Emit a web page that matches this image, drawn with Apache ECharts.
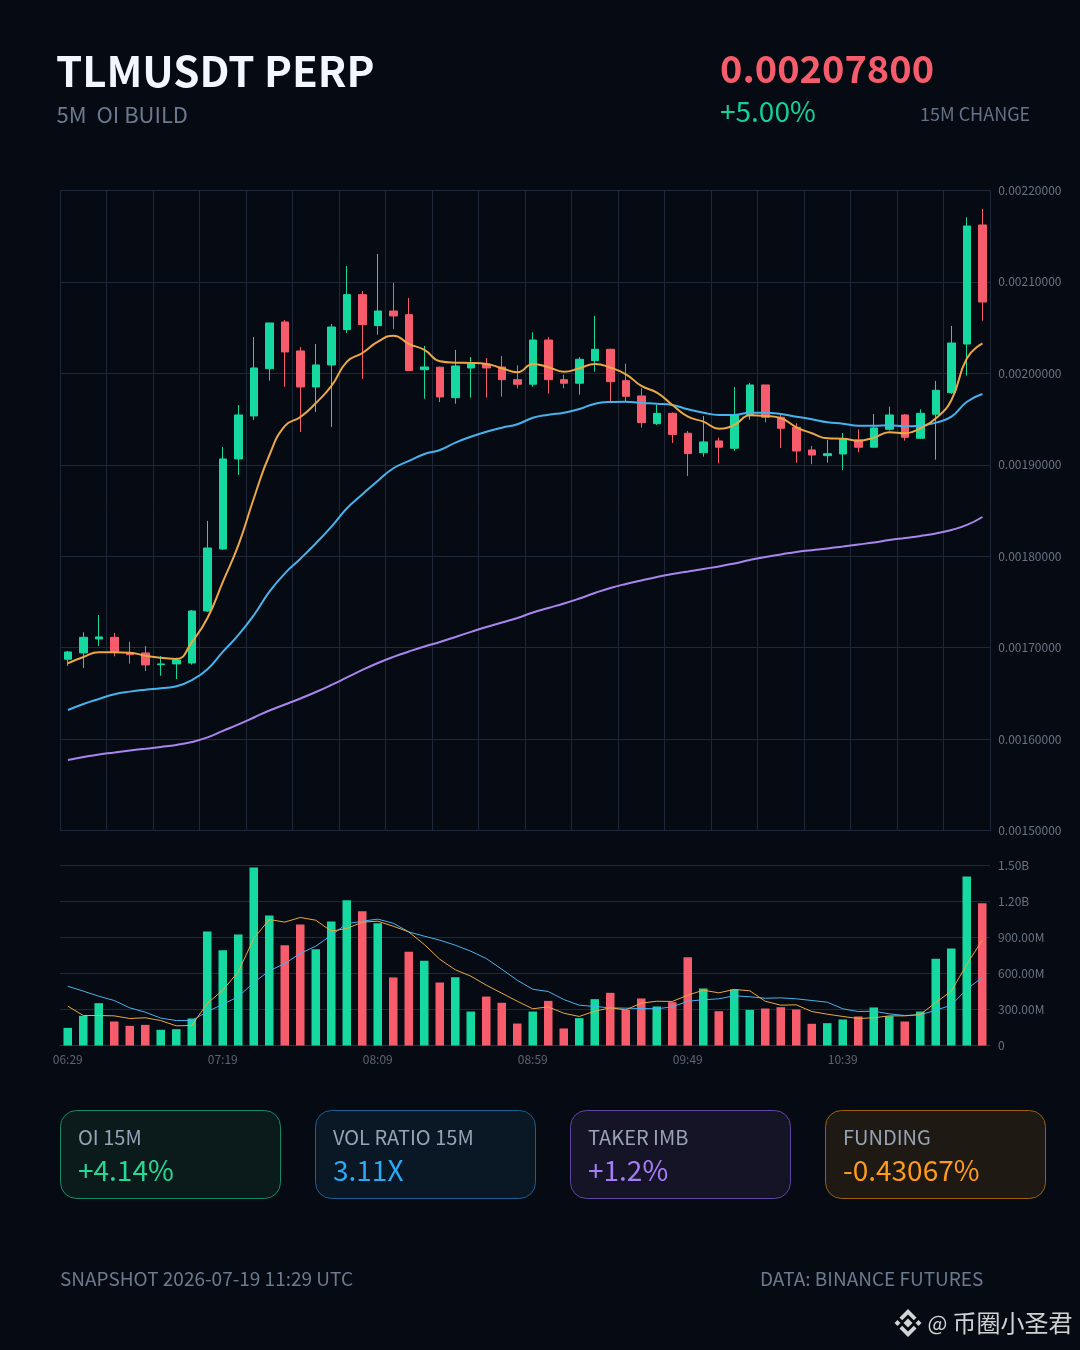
<!DOCTYPE html>
<html>
<head>
<meta charset="utf-8">
<style>html,body{margin:0;padding:0;background:#060a12}#c{width:1080px;height:1350px}</style>
<script src="https://cdn.jsdelivr.net/npm/echarts@6/dist/echarts.min.js"></script>
</head>
<body>
<div id="c"></div>
<script>
const times = ['06:29','06:34','06:39','06:44','06:49','06:54','06:59','07:04','07:09','07:14','07:19','07:24','07:29','07:34','07:39','07:44','07:49','07:54','07:59','08:04','08:09','08:14','08:19','08:24','08:29','08:34','08:39','08:44','08:49','08:54','08:59','09:04','09:09','09:14','09:19','09:24','09:29','09:34','09:39','09:44','09:49','09:54','09:59','10:04','10:09','10:14','10:19','10:24','10:29','10:34','10:39','10:44','10:49','10:54','10:59','11:04','11:09','11:14','11:19','11:24'];
const open = [0.0016873,0.0016942,0.0017095,0.0017113,0.0016945,0.0016942,0.0016814,0.0016822,0.0016832,0.0017401,0.0018079,0.0019064,0.0019534,0.0020051,0.0020562,0.0020245,0.0019851,0.0020092,0.0020478,0.0020861,0.0020522,0.0020682,0.0020642,0.0020040,0.0020067,0.0019734,0.0020059,0.0020103,0.0020070,0.0019931,0.0019881,0.0020365,0.0019931,0.0019892,0.0020139,0.0020263,0.0019920,0.0019753,0.0019450,0.0019563,0.0019345,0.0019133,0.0019261,0.0019181,0.0019545,0.0019873,0.0019520,0.0019410,0.0019162,0.0019100,0.0019118,0.0019271,0.0019192,0.0019388,0.0019545,0.0019290,0.0019553,0.0019789,0.0020321,0.0021623];
const close = [0.0016953,0.0017113,0.0017117,0.0016950,0.0016923,0.0016811,0.0016822,0.0016865,0.0017401,0.0018090,0.0019064,0.0019545,0.0020059,0.0020551,0.0020234,0.0019851,0.0020092,0.0020507,0.0020861,0.0020533,0.0020682,0.0020628,0.0020030,0.0020070,0.0019742,0.0020081,0.0020103,0.0020059,0.0019931,0.0019881,0.0020365,0.0019931,0.0019892,0.0020154,0.0020263,0.0019909,0.0019749,0.0019461,0.0019563,0.0019332,0.0019122,0.0019250,0.0019192,0.0019545,0.0019873,0.0019520,0.0019399,0.0019151,0.0019107,0.0019122,0.0019286,0.0019192,0.0019403,0.0019545,0.0019301,0.0019563,0.0019815,0.0020332,0.0021612,0.0020780];
const low = [0.0016800,0.0016778,0.0017018,0.0016906,0.0016825,0.0016745,0.0016693,0.0016657,0.0016814,0.0017390,0.0018068,0.0018889,0.0019490,0.0019920,0.0019854,0.0019359,0.0019578,0.0019414,0.0020442,0.0019939,0.0020423,0.0020486,0.0020026,0.0019723,0.0019687,0.0019668,0.0019734,0.0019734,0.0019745,0.0019837,0.0019854,0.0019778,0.0019837,0.0019767,0.0020018,0.0019687,0.0019687,0.0019406,0.0019436,0.0019239,0.0018878,0.0019089,0.0019017,0.0019154,0.0019493,0.0019465,0.0019184,0.0019023,0.0019006,0.0019023,0.0018943,0.0019137,0.0019192,0.0019373,0.0019264,0.0019286,0.0019056,0.0019775,0.0019975,0.0020576];
const high = [0.0016964,0.0017168,0.0017357,0.0017161,0.0017065,0.0017018,0.0016909,0.0016890,0.0017412,0.0018386,0.0019195,0.0019654,0.0020398,0.0020551,0.0020584,0.0020289,0.0020321,0.0020540,0.0021175,0.0020901,0.0021306,0.0020989,0.0020825,0.0020300,0.0020073,0.0020256,0.0020179,0.0020168,0.0020190,0.0020088,0.0020449,0.0020398,0.0019986,0.0020179,0.0020628,0.0020270,0.0020106,0.0019837,0.0019654,0.0019574,0.0019370,0.0019534,0.0019297,0.0019851,0.0019895,0.0019873,0.0019545,0.0019454,0.0019206,0.0019271,0.0019348,0.0019388,0.0019556,0.0019636,0.0019556,0.0019607,0.0019917,0.0020518,0.0021707,0.0021798];
const maFast = [0.0016829,0.0016898,0.0016950,0.0016950,0.0016945,0.0016912,0.0016890,0.0016876,0.0017062,0.0017325,0.0017722,0.0018123,0.0018637,0.0019107,0.0019425,0.0019523,0.0019676,0.0019862,0.0020128,0.0020223,0.0020347,0.0020412,0.0020321,0.0020256,0.0020132,0.0020117,0.0020114,0.0020103,0.0020056,0.0020012,0.0020103,0.0020067,0.0020018,0.0020056,0.0020103,0.0020062,0.0019990,0.0019862,0.0019789,0.0019654,0.0019526,0.0019472,0.0019395,0.0019436,0.0019542,0.0019534,0.0019509,0.0019410,0.0019345,0.0019290,0.0019286,0.0019264,0.0019297,0.0019356,0.0019345,0.0019400,0.0019509,0.0019709,0.0020165,0.0020329];
const maMid = [0.0016318,0.0016384,0.0016439,0.0016490,0.0016519,0.0016540,0.0016556,0.0016578,0.0016646,0.0016763,0.0016956,0.0017139,0.0017357,0.0017612,0.0017813,0.0017973,0.0018142,0.0018323,0.0018524,0.0018678,0.0018826,0.0018962,0.0019042,0.0019118,0.0019162,0.0019242,0.0019307,0.0019362,0.0019406,0.0019443,0.0019515,0.0019548,0.0019570,0.0019611,0.0019668,0.0019687,0.0019690,0.0019676,0.0019668,0.0019654,0.0019607,0.0019570,0.0019545,0.0019545,0.0019570,0.0019570,0.0019556,0.0019526,0.0019498,0.0019465,0.0019450,0.0019428,0.0019428,0.0019432,0.0019421,0.0019428,0.0019461,0.0019526,0.0019690,0.0019775];
const maSlow = [0.0015772,0.0015804,0.0015832,0.0015853,0.0015875,0.0015895,0.0015914,0.0015936,0.0015968,0.0016018,0.0016089,0.0016160,0.0016236,0.0016313,0.0016378,0.0016444,0.0016515,0.0016592,0.0016674,0.0016756,0.0016832,0.0016899,0.0016958,0.0017013,0.0017062,0.0017117,0.0017172,0.0017226,0.0017275,0.0017325,0.0017385,0.0017434,0.0017483,0.0017538,0.0017598,0.0017653,0.0017697,0.0017735,0.0017772,0.0017806,0.0017833,0.0017861,0.0017888,0.0017921,0.0017959,0.0017992,0.0018019,0.0018047,0.0018066,0.0018085,0.0018107,0.0018129,0.0018150,0.0018178,0.0018200,0.0018222,0.0018249,0.0018287,0.0018342,0.0018429];
const volume = [147,247,353,200,164,172,131,136,225,950,794,925,1483,1083,836,1008,803,1033,1211,1119,1019,567,781,706,525,569,283,408,356,183,283,372,142,228,386,439,297,392,325,361,736,475,286,467,297,308,319,300,181,186,217,242,317,244,200,283,722,808,1408,1186];
const volFast = [328,250,250,247,225,231,208,164,167,350,461,614,892,1050,1028,1067,1044,953,975,1028,1036,994,947,842,719,631,578,503,436,369,306,322,269,242,286,314,297,353,369,367,419,461,439,467,456,369,336,339,283,261,242,225,231,247,247,258,358,453,675,878];
const volSlow = [494,453,411,375,314,278,228,208,208,281,344,406,525,622,683,767,828,919,1014,1036,1053,1019,947,911,878,836,786,725,636,544,469,450,383,336,325,314,311,308,306,322,369,381,389,414,406,394,397,389,375,361,306,283,286,264,250,256,294,336,469,567];

const UP = '#16d9a0', DOWN = '#f65c6b';
const FONT = '"Noto Sans CJK SC","Noto Sans",sans-serif';
const GRID = '#1e2838';

function txt(text, x, y, size, fill, weight, align) {
  return {type:'text', silent:true, style:{text, x, y, fill,
    font:(weight||'400')+' '+size+'px '+FONT, textAlign:align||'left', textVerticalAlign:'middle'}};
}
function card(x, fill, stroke, label, value, valueColor) {
  return [
    {type:'rect', silent:true, shape:{x, y:1110.5, width:220, height:88, r:16},
     style:{fill, stroke, lineWidth:1}},
    txt(label, x+17.5, 1137, 20, '#97a3b6'),
    txt(value, x+17.5, 1170, 28, valueColor)
  ];
}
const logoColor = '#d2d4d6', lx = 908, ly = 1323;
function poly(pts){ return {type:'polygon', silent:true, shape:{points:pts.map(p=>[lx+p[0],ly+p[1]])}, style:{fill:logoColor}}; }

const chart = echarts.init(document.getElementById('c'), null, {width:1080, height:1350});
chart.setOption({
  animation:false,
  backgroundColor:'#060a12',
  grid:[
    {left:60.2, right:89.8, top:190.5, height:640, containLabel:false},
    {left:60, right:90, top:865.5, height:180, containLabel:false}
  ],
  xAxis:[
    {type:'category', gridIndex:0, data:times, boundaryGap:true,
     axisLine:{lineStyle:{color:GRID}}, axisTick:{show:false, interval:2}, axisLabel:{show:false},
     splitLine:{show:true, interval:2, lineStyle:{color:GRID, width:1}}},
    {type:'category', gridIndex:1, data:times, boundaryGap:true,
     axisLine:{lineStyle:{color:'#263244'}}, axisTick:{show:false},
     axisLabel:{interval:9, color:'#5d6675', fontSize:12, fontFamily:FONT, margin:8},
     splitLine:{show:false}}
  ],
  yAxis:[
    {type:'value', gridIndex:0, position:'right', min:0.0015, max:0.0022, interval:0.0001,
     axisLine:{show:false}, axisTick:{show:false},
     axisLabel:{color:'#687484', fontSize:12, fontFamily:FONT, margin:8, formatter:v=>v.toFixed(8)},
     splitLine:{show:true, lineStyle:{color:GRID, width:1}}},
    {type:'value', gridIndex:1, position:'right', min:0, max:1500, interval:300,
     axisLine:{show:false}, axisTick:{show:false},
     axisLabel:{color:'#687484', fontSize:12, fontFamily:FONT, margin:8,
       formatter:v=>v===0?'0':(v>=1000?(v/1000).toFixed(2)+'B':v.toFixed(2)+'M')},
     splitLine:{show:true, lineStyle:{color:'#1c2a39', width:1}}}
  ],
  series:[
    {type:'candlestick', xAxisIndex:0, yAxisIndex:0, barWidth:'52%',
     data:times.map((_,i)=>[open[i],close[i],low[i],high[i]]),
     itemStyle:{color:UP, color0:DOWN, borderColor:UP, borderColor0:DOWN, borderWidth:1}},
    {type:'line', xAxisIndex:0, yAxisIndex:0, data:maSlow, smooth:0.5, showSymbol:false, lineStyle:{color:'#a985ee', width:2}, z:3},
    {type:'line', xAxisIndex:0, yAxisIndex:0, data:maMid, smooth:0.5, showSymbol:false, lineStyle:{color:'#47b3ee', width:2}, z:3},
    {type:'line', xAxisIndex:0, yAxisIndex:0, data:maFast, smooth:0.5, showSymbol:false, lineStyle:{color:'#eca844', width:2}, z:4},
    {type:'bar', xAxisIndex:1, yAxisIndex:1, barWidth:'55%',
     data:volume.map((v,i)=>({value:v, itemStyle:{color:close[i]>=open[i]?UP:DOWN}}))},
    {type:'line', xAxisIndex:1, yAxisIndex:1, data:volFast, showSymbol:false, lineStyle:{color:'#eca844', width:1}, z:4},
    {type:'line', xAxisIndex:1, yAxisIndex:1, data:volSlow, showSymbol:false, lineStyle:{color:'#47b3ee', width:1}, z:3}
  ],
  graphic:[
    txt('TLMUSDT PERP', 56, 71, 42, '#f2f6fd', '700'),
    txt('5M  OI BUILD', 56.5, 115, 22, '#6c7a90'),
    txt('0.00207800', 720, 69, 38, '#f65c6b', '700'),
    txt('+5.00%', 720, 111, 28, '#16cf98'),
    txt('15M CHANGE', 920, 114, 18, '#667287'),
    ...card(60.5, '#0b1b1c', '#158a68', 'OI 15M', '+4.14%', '#26d796'),
    ...card(315.5, '#0a1826', '#1a5f92', 'VOL RATIO 15M', '3.11X', '#2ba8f6'),
    ...card(570.5, '#141426', '#5f46a2', 'TAKER IMB', '+1.2%', '#a67cf6'),
    ...card(825.5, '#1e1913', '#9a5f14', 'FUNDING', '-0.43067%', '#ff9a1a'),
    txt('SNAPSHOT 2026-07-19 11:29 UTC', 60, 1279, 19, '#6c7a90'),
    txt('DATA: BINANCE FUTURES', 760, 1279, 19, '#6c7a90'),
    poly([[0,-4.5],[4.5,0],[0,4.5],[-4.5,0]]),
    poly([[-10.5,-3],[-7.5,0],[-10.5,3],[-13.5,0]]),
    poly([[10.5,-3],[13.5,0],[10.5,3],[7.5,0]]),
    poly([[0,-14],[8.5,-5.5],[5.8,-2.8],[0,-8.6],[-5.8,-2.8],[-8.5,-5.5]]),
    poly([[0,14],[8.5,5.5],[5.8,2.8],[0,8.6],[-5.8,2.8],[-8.5,5.5]]),
    txt('@', 927.5, 1323, 21, '#cfd1d3'),
    txt('币圈小圣君', 952.5, 1323, 24, '#cfd1d3')
  ]
});
</script>
</body>
</html>
